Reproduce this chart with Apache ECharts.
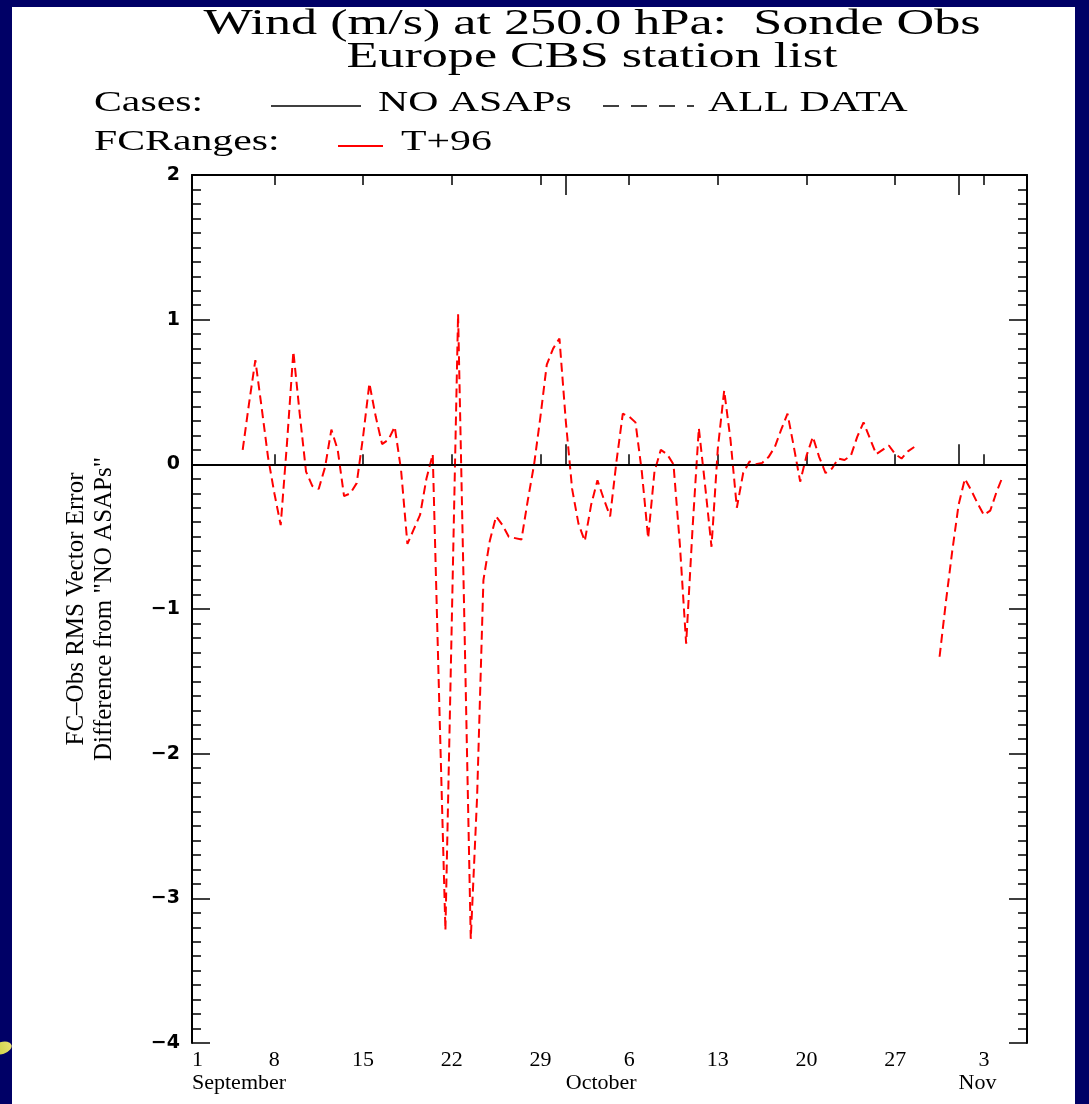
<!DOCTYPE html>
<html><head><meta charset="utf-8">
<script src="https://cdn.jsdelivr.net/npm/echarts@6/dist/echarts.min.js"></script>
<style>
html,body{margin:0;padding:0;background:#000066;width:1089px;height:1104px;overflow:hidden;}
#panel{position:absolute;left:12px;top:7px;width:1063px;height:1097px;background:#fff;}
#swoosh{position:absolute;left:-8px;top:1042px;width:20px;height:12px;border-radius:50%;
  background:linear-gradient(90deg,#c8d040,#e8e070);transform:rotate(-18deg);}
#chart{position:absolute;left:0;top:0;width:1089px;height:1104px;}
</style></head><body><div id="panel"></div><div id="swoosh"></div><div id="chart"></div>
<script>
// Day offsets counted from 1 September (0 = Sep 1); observations every 12 h
const firstDay = 4.5;
const stepDays = 0.5;
// T+96 wind RMS vector error difference, ALL DATA minus NO ASAPs (m/s)
const diffT96 = [
  0.10, 0.42, 0.72, 0.39, 0.05, -0.20, -0.42, 0.15, 0.78, 0.35, -0.05,
  -0.15, -0.17, -0.02, 0.24, 0.10, -0.22, -0.20, -0.13, 0.19, 0.56,
  0.33, 0.14, 0.17, 0.26, -0.04, -0.55, -0.45, -0.35, -0.10, 0.07,
  -1.60, -3.22, -1.10, 1.04, -1.10, -3.28, -2.30, -0.80, -0.53, -0.36,
  -0.42, -0.50, -0.51, -0.52, -0.25, 0.00, 0.33, 0.69, 0.80, 0.87,
  0.30, -0.17, -0.41, -0.53, -0.28, -0.11, -0.24, -0.36, 0.02, 0.35,
  0.33, 0.29, -0.05, -0.51, -0.05, 0.10, 0.07, 0.00, -0.55, -1.24,
  -0.45, 0.25, -0.15, -0.57, 0.11, 0.51, 0.17, -0.30, -0.06, 0.02,
  0.00, 0.01, 0.05, 0.12, 0.24, 0.35, 0.12, -0.12, 0.06, 0.19,
  0.05, -0.06, -0.03, 0.04, 0.03, 0.06, 0.19, 0.29, 0.18, 0.07,
  0.10, 0.13, 0.07, 0.04, 0.09, 0.12, null, null, null, -1.33,
  -0.95, -0.60, -0.28, -0.10, -0.18, -0.27, -0.35, -0.32, -0.19, -0.08
];
// Axis extents (days since Sep 1)
const xMin = 0.5, xMax = 66.4;
const yMin = -4, yMax = 2, yStep = 1;
// Tick positions and labels
const weekTickDays = [7, 14, 21, 28, 35, 42, 49, 56, 63];
const dayLabelDays = [0.5, 7, 14, 21, 28, 35, 42, 49, 56, 63];
const dayLabelText = ['1', '8', '15', '22', '29', '6', '13', '20', '27', '3'];
const monthTickDays = [30, 61];
const monthLabelDays = [0.5, 30, 61];
const monthLabelText = ['September', 'October', 'Nov'];

const seriesData = diffT96.map((v, i) => [firstDay + i * stepDays, v]);

const SERIF = "'Liberation Serif','Times New Roman',serif";
function txt(x, y, s, size, align, sx) {
  return { type: 'text', x: x, y: y, scaleX: sx || 1.44, z: 10,
    style: { text: s, fontFamily: SERIF, fontSize: size, fill: '#000',
      textAlign: align || 'left', textVerticalAlign: 'middle' } };
}
function hline(x1, x2, y, color, dash, w) {
  return { type: 'line', z: 10, shape: { x1: x1, y1: y, x2: x2, y2: y },
    style: { stroke: color, lineWidth: w || 1.5, lineDash: dash || null } };
}

const black = '#000';
const axisLine = { show: true, lineStyle: { color: black, width: 2 } };
function xAx(pos, tickVals, tickLen, showLine, label) {
  return {
    type: 'value', min: xMin, max: xMax, position: pos, gridIndex: 0,
    axisLine: showLine ? axisLine : { show: false },
    axisTick: { show: true, inside: true, length: tickLen, customValues: tickVals,
      lineStyle: { color: black, width: 1.5 } },
    axisLabel: label || { show: false },
    splitLine: { show: false }
  };
}
function yAx(pos, showLabel) {
  const a = {
    type: 'value', min: yMin, max: yMax, interval: yStep, position: pos,
    axisLine: axisLine,
    axisTick: { show: true, inside: true, length: 18, lineStyle: { color: black, width: 1.5 } },
    minorTick: { show: true, splitNumber: 10, length: 9, lineStyle: { color: black, width: 1.5 } },
    splitLine: { show: false },
    axisLabel: showLabel ? {
      margin: 12, color: black, fontFamily: "'DejaVu Sans',sans-serif", fontWeight: 'bold', fontSize: 19,
      formatter: v => (v < 0 ? '\u2212' : '') + Math.abs(v)
    } : { show: false }
  };
  if (showLabel) {
    a.name = 'FC\u2013Obs RMS Vector Error\nDifference from "NO ASAPs"';
    a.nameLocation = 'middle';
    a.nameRotate = 90;
    a.nameGap = 74;
    a.nameTextStyle = { fontFamily: SERIF, fontSize: 25, lineHeight: 28, color: black };
  }
  return a;
}

const chart = echarts.init(document.getElementById('chart'), null, { renderer: 'canvas' });
chart.setOption({
  animation: false,
  grid: { left: 192, right: 62, top: 175, bottom: 61, containLabel: false },
  xAxis: [
    xAx('bottom', weekTickDays, 10, true, {
      show: true, customValues: dayLabelDays, margin: 6, color: black,
      fontFamily: SERIF, fontSize: 22, alignMinLabel: 'left',
      formatter: v => dayLabelText[dayLabelDays.indexOf(v)]
    }),
    xAx('bottom', monthTickDays, 20, false, {
      show: true, customValues: monthLabelDays, margin: 29, color: black,
      fontFamily: SERIF, fontSize: 22, align: 'left',
      formatter: v => monthLabelText[monthLabelDays.indexOf(v)]
    }),
    xAx('top', weekTickDays, 10, true),
    xAx('top', monthTickDays, 20, false)
  ],
  yAxis: [yAx('left', true), yAx('right', false)],
  graphic: { elements: [
    txt(592, 25, 'Wind (m/s) at 250.0 hPa:  Sonde Obs', 35, 'center', 1.49),
    txt(592, 58, 'Europe CBS station list', 35, 'center', 1.49),
    txt(94, 103, 'Cases:', 29),
    hline(271, 361, 106, black, null, 1.5),
    txt(378, 103, 'NO ASAPs', 29),
    hline(603, 694, 106, black, [16, 12], 1.5),
    txt(708, 103, 'ALL DATA', 29),
    txt(94, 142, 'FCRanges:', 29),
    hline(338, 383, 146, '#ff0000', null, 2),
    txt(401, 142, 'T+96', 29)
  ] },
  series: [{
    name: 'T+96', type: 'line', xAxisIndex: 0, yAxisIndex: 0,
    data: seriesData, showSymbol: false, connectNulls: false,
    lineStyle: { color: '#ff0000', width: 2, type: [9, 5] },
    markLine: { silent: true, symbol: ['none', 'none'], label: { show: false },
      lineStyle: { color: black, type: 'solid', width: 1.5 }, data: [{ yAxis: 0 }] }
  }]
});
</script></body></html>
